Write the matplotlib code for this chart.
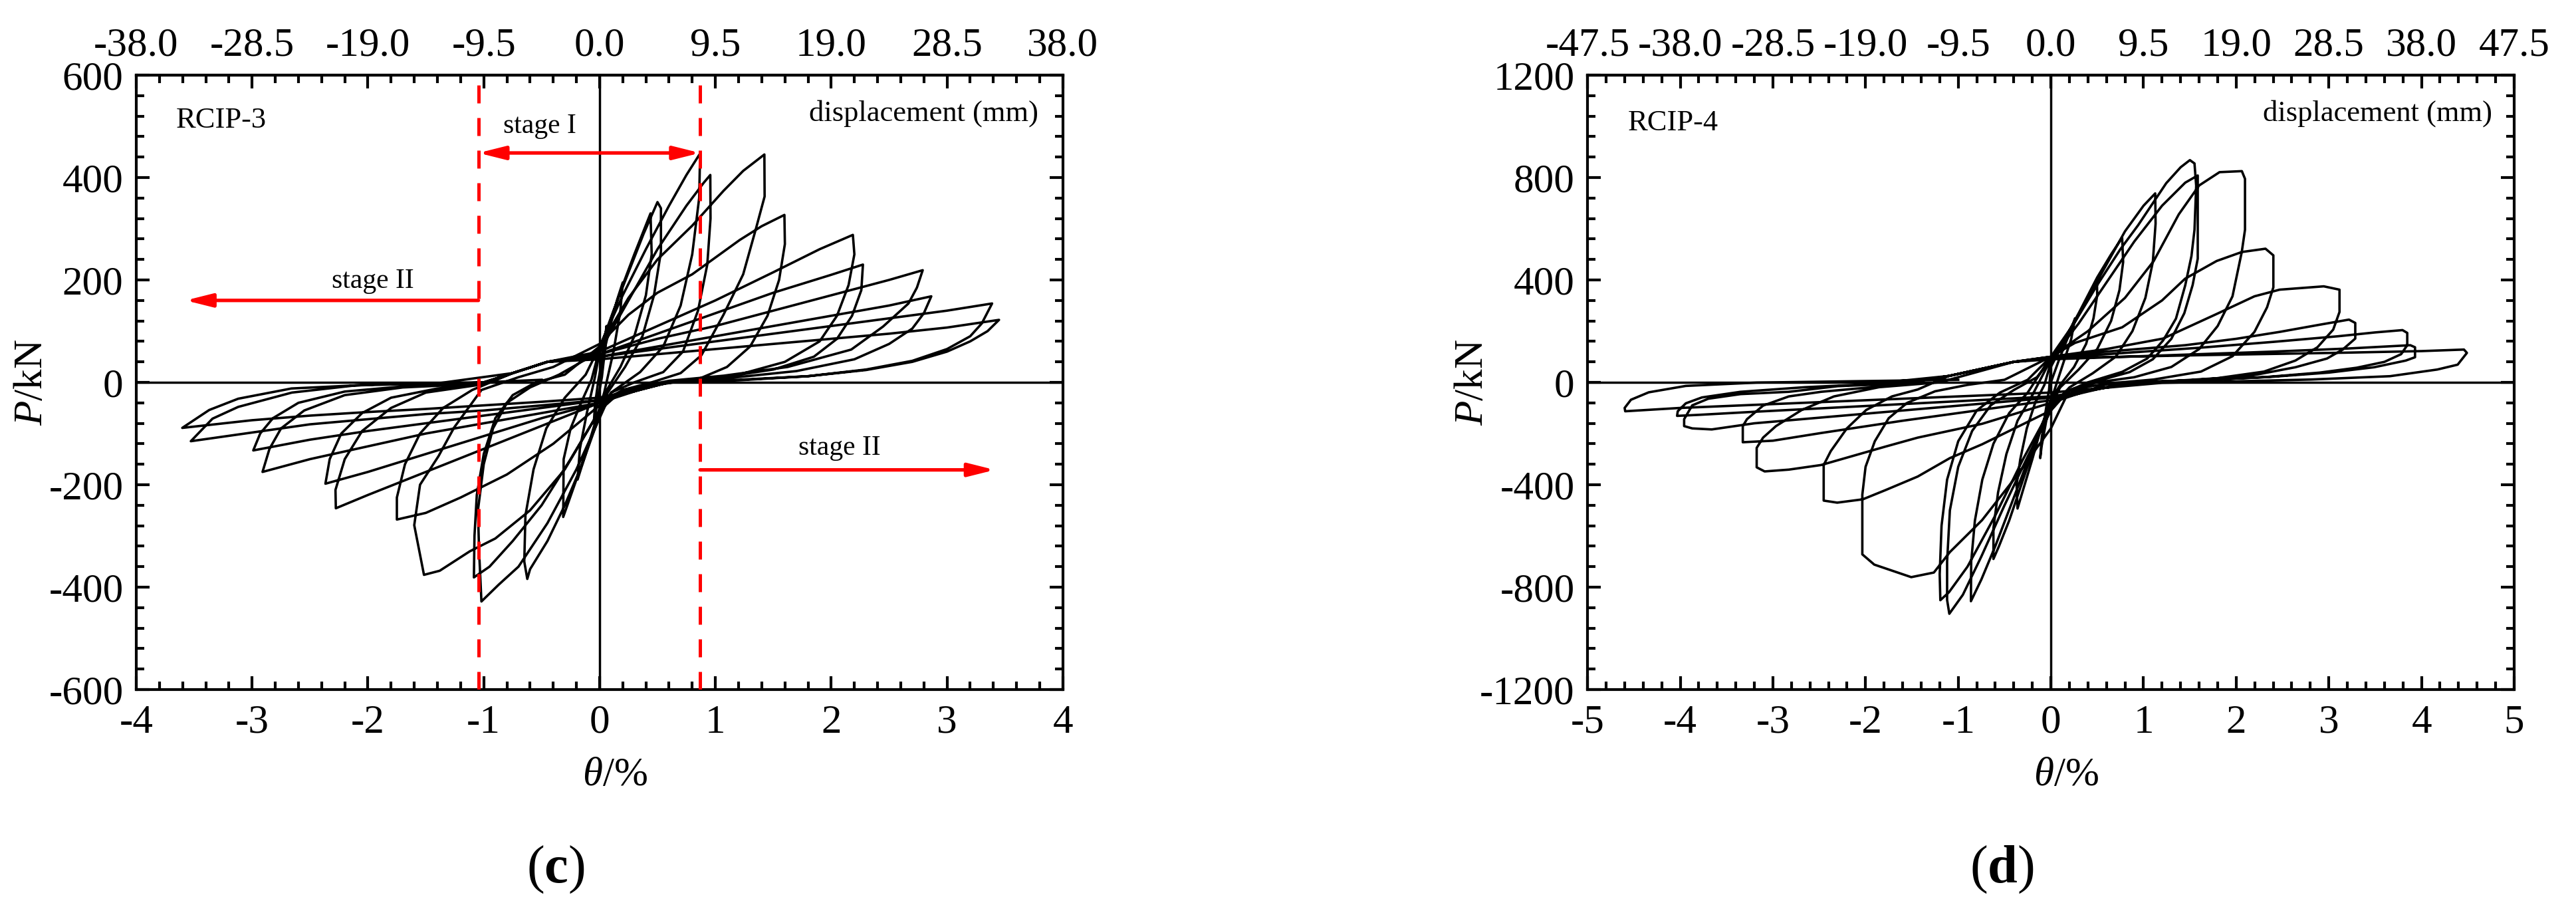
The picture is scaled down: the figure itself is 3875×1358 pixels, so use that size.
import numpy as np
import matplotlib
matplotlib.use('Agg')
import matplotlib.pyplot as plt
from matplotlib.ticker import MultipleLocator

plt.rcParams['font.family'] = ['Liberation Serif', 'DejaVu Serif']
plt.rcParams['mathtext.fontset'] = 'custom'
plt.rcParams['mathtext.rm'] = 'Liberation Serif'
plt.rcParams['mathtext.it'] = 'Liberation Serif:italic'
plt.rcParams['mathtext.bf'] = 'Liberation Serif:bold'
plt.rcParams['axes.unicode_minus'] = False

# RCIP-3 hysteresis cycles, (drift ratio %, load kN)
rcip3_loops = [
    [(0.0, 0), (0.03, 60), (0.06, 110), (0.05, 70), (0.02, 10), (-0.02, -40), (-0.05, -80), (-0.04, -45), (-0.01, 5)],
    [(0.02, 40), (0.08, 100), (0.15, 160), (0.2, 195), (0.18, 140), (0.12, 60), (0.04, -20), (-0.04, -80),
     (-0.12, -140), (-0.19, -190), (-0.17, -130), (-0.11, -60), (-0.04, 10)],
    [(0.0, 60), (0.1, 125), (0.2, 190), (0.3, 250), (0.44, 330), (0.45, 250), (0.4, 170), (0.3, 90), (0.18, 30),
     (0.05, -20), (0.0, -60), (-0.1, -125), (-0.2, -190), (-0.314, -263), (-0.31, -150), (-0.25, -90),
     (-0.16, -40), (-0.07, 5)],
    [(0.0, 65), (0.12, 140), (0.25, 215), (0.38, 290), (0.5, 352), (0.53, 340), (0.53, 255), (0.47, 170),
     (0.37, 90), (0.22, 30), (0.07, -20), (0.0, -65), (-0.15, -160), (-0.3, -240), (-0.45, -310), (-0.6, -365),
     (-0.624, -384), (-0.65, -350), (-0.64, -260), (-0.57, -170), (-0.46, -90), (-0.3, -30), (-0.12, 15)],
    [(0.0, 70), (0.2, 170), (0.4, 260), (0.6, 345), (0.75, 405), (0.868, 447), (0.86, 360), (0.8, 250),
     (0.7, 150), (0.55, 70), (0.35, 20), (0.1, -20), (0.0, -70), (-0.2, -170), (-0.45, -275), (-0.7, -360),
     (-0.87, -395), (-1.02, -428), (-1.04, -330), (-1.05, -250), (-1.0, -160), (-0.92, -90), (-0.8, -40),
     (-0.6, -10), (-0.35, 15)],
    [(0.0, 60), (0.25, 160), (0.5, 260), (0.75, 345), (0.9, 390), (0.956, 405), (0.958, 320), (0.93, 230),
     (0.85, 140), (0.72, 60), (0.55, 20), (0.3, 0), (0.1, -20), (0.0, -55), (-0.25, -150), (-0.5, -240),
     (-0.75, -310), (-0.95, -360), (-1.085, -381), (-1.08, -300), (-1.06, -220), (-1.0, -140), (-0.9, -70),
     (-0.75, -25), (-0.55, 0), (-0.3, 15)],
    [(0.0, 70), (0.25, 165), (0.5, 240), (0.8, 306), (1.07, 374), (1.24, 413), (1.423, 445), (1.425, 363),
     (1.35, 300), (1.24, 211), (1.07, 132), (0.88, 53), (0.7, 18), (0.45, 0), (0.2, -15), (0.0, -55),
     (-0.3, -170), (-0.6, -250), (-0.9, -305), (-1.12, -330), (-1.38, -368), (-1.516, -376), (-1.6, -279),
     (-1.55, -200), (-1.39, -144), (-1.255, -88), (-1.02, -15), (-0.7, 10), (-0.4, 30)],
    [(0.0, 75), (0.25, 132), (0.5, 175), (0.8, 211), (1.21, 278), (1.4, 305), (1.596, 327), (1.6, 270),
     (1.55, 200), (1.45, 130), (1.3, 70), (1.1, 30), (0.87, 8), (0.5, -5), (0.2, -20), (0.0, -45), (-0.4, -120),
     (-0.8, -180), (-1.2, -225), (-1.5, -255), (-1.75, -268), (-1.75, -225), (-1.68, -160), (-1.55, -100),
     (-1.35, -50), (-1.1, -15), (-0.75, 18), (-0.45, 40)],
    [(0.0, 60), (0.5, 110), (1.0, 160), (1.5, 215), (1.9, 260), (2.187, 288), (2.2, 250), (2.15, 190),
     (2.05, 130), (1.9, 80), (1.6, 40), (1.2, 15), (0.87, 5), (0.4, -5), (0.0, -40), (-0.5, -85), (-1.0, -130),
     (-1.5, -175), (-2.0, -220), (-2.277, -246), (-2.28, -210), (-2.2, -150), (-2.05, -95), (-1.8, -50),
     (-1.5, -20), (-1.04, -5), (-0.75, 18), (-0.45, 40)],
    [(0.0, 55), (0.5, 95), (1.0, 135), (1.5, 175), (2.0, 210), (2.274, 230), (2.26, 180), (2.18, 130),
     (2.05, 85), (1.85, 50), (1.5, 25), (1.0, 8), (0.5, -3), (0.0, -40), (-0.5, -70), (-1.0, -105),
     (-1.5, -140), (-2.0, -175), (-2.367, -198), (-2.33, -150), (-2.23, -100), (-2.05, -60), (-1.8, -30),
     (-1.4, -12), (-1.0, -3), (-0.75, 18), (-0.45, 40)],
    [(0.0, 55), (0.5, 85), (1.0, 110), (1.5, 140), (2.0, 170), (2.5, 200), (2.79, 219), (2.74, 185),
     (2.667, 154), (2.448, 109), (2.173, 64), (1.624, 30), (1.073, 13), (0.6, 3), (0.2, -15), (0.0, -40),
     (-0.5, -60), (-1.0, -80), (-1.5, -100), (-2.0, -125), (-2.5, -150), (-2.91, -175), (-2.85, -130),
     (-2.75, -90), (-2.55, -55), (-2.2, -25), (-1.7, -10), (-1.04, -3), (-0.75, 18), (-0.45, 40)],
    [(0.0, 50), (0.5, 70), (1.0, 90), (1.5, 110), (2.0, 130), (2.5, 150), (2.864, 168), (2.8, 135),
     (2.7, 105), (2.5, 75), (2.2, 45), (1.7, 22), (1.1, 8), (0.6, 0), (0.0, -35), (-0.5, -50), (-1.0, -65),
     (-1.5, -80), (-2.0, -95), (-2.5, -112), (-2.99, -133), (-2.93, -100), (-2.82, -70), (-2.6, -40),
     (-2.2, -18), (-1.6, -6), (-1.0, 0), (-0.75, 18), (-0.45, 40)],
    [(0.0, 50), (0.5, 65), (1.0, 80), (1.5, 95), (2.0, 110), (2.5, 125), (3.0, 140), (3.389, 154), (3.3, 115),
     (3.2, 90), (3.0, 65), (2.7, 42), (2.3, 25), (1.8, 12), (1.2, 5), (0.6, 0), (0.0, -35), (-0.5, -45),
     (-1.0, -55), (-1.5, -62), (-2.0, -72), (-2.5, -82), (-3.0, -98), (-3.529, -115), (-3.342, -71),
     (-3.12, -48), (-2.656, -20), (-2.106, -6), (-1.4, -2), (-0.75, 18), (-0.45, 40)],
    [(0.0, 45), (0.5, 55), (1.0, 65), (1.5, 75), (2.0, 85), (2.5, 95), (3.0, 107), (3.449, 122), (3.35, 100),
     (3.2, 80), (3.0, 60), (2.7, 40), (2.3, 24), (1.8, 12), (1.2, 4), (0.6, 0), (0.0, -30), (-0.5, -38),
     (-1.0, -45), (-1.5, -52), (-2.0, -58), (-2.5, -65), (-3.0, -74), (-3.603, -89), (-3.37, -54),
     (-3.12, -32), (-2.66, -12), (-1.83, -3), (-1.0, 0), (-0.5, 5)],
]

# RCIP-4 hysteresis cycles, (drift ratio %, load kN)
rcip4_loops = [
    [(0.0, 0), (0.1, 100), (0.2, 190), (0.26, 250), (0.22, 170), (0.12, 60), (0.03, -40), (-0.05, -150),
     (-0.1, -250), (-0.115, -296), (-0.1, -220), (-0.06, -120), (-0.02, -30)],
    [(0.0, 60), (0.1, 130), (0.25, 230), (0.4, 330), (0.497, 401), (0.5, 340), (0.46, 250), (0.38, 150),
     (0.25, 60), (0.1, -10), (0.0, -70), (-0.1, -170), (-0.2, -300), (-0.3, -420), (-0.36, -493), (-0.37, -400),
     (-0.33, -300), (-0.26, -180), (-0.17, -80), (-0.07, -10)],
    [(0.0, 80), (0.15, 170), (0.3, 270), (0.5, 410), (0.65, 500), (0.769, 565), (0.78, 470), (0.74, 360),
     (0.65, 240), (0.5, 130), (0.3, 50), (0.1, -20), (0.0, -90), (-0.15, -220), (-0.3, -380), (-0.45, -540),
     (-0.56, -640), (-0.62, -690), (-0.62, -570), (-0.57, -430), (-0.48, -280), (-0.36, -150), (-0.2, -50)],
    [(0.0, 90), (0.2, 200), (0.4, 330), (0.6, 460), (0.8, 590), (1.0, 690), (1.126, 738), (1.13, 620),
     (1.1, 470), (1.02, 330), (0.88, 200), (0.7, 100), (0.45, 35), (0.2, -20), (0.0, -100), (-0.2, -260),
     (-0.4, -450), (-0.6, -640), (-0.75, -770), (-0.863, -855), (-0.86, -700), (-0.82, -540), (-0.74, -380),
     (-0.62, -240), (-0.45, -120), (-0.25, -40)],
    [(0.0, 100), (0.25, 230), (0.5, 380), (0.75, 520), (0.94, 613), (1.245, 778), (1.4, 840), (1.5, 868),
     (1.55, 855), (1.568, 768), (1.55, 596), (1.517, 493), (1.45, 379), (1.35, 249), (1.21, 163), (1.04, 93),
     (0.77, 41), (0.4, 0), (0.15, -40), (0.0, -110), (-0.25, -290), (-0.5, -480), (-0.75, -680), (-0.95, -830),
     (-1.096, -904), (-1.12, -850), (-1.12, -700), (-1.09, -500), (-1.0, -330), (-0.85, -190), (-0.65, -90),
     (-0.4, -30), (-0.15, 20)],
    [(0.0, 90), (0.3, 230), (0.6, 390), (0.9, 550), (1.2, 690), (1.45, 780), (1.585, 808), (1.585, 483),
     (1.53, 380), (1.44, 270), (1.3, 170), (1.1, 90), (0.85, 40), (0.5, 5), (0.2, -30), (0.0, -100),
     (-0.3, -300), (-0.6, -520), (-0.9, -720), (-1.1, -820), (-1.193, -851), (-1.2, -750), (-1.18, -560),
     (-1.12, -380), (-1.0, -230), (-0.8, -110), (-0.55, -40), (-0.25, 10)],
    [(0.0, 100), (0.4, 200), (0.8, 330), (1.11, 474), (1.38, 656), (1.6, 769), (1.82, 821), (2.061, 825),
     (2.095, 795), (2.095, 596), (2.06, 509), (1.96, 336), (1.8, 220), (1.6, 130), (1.3, 60), (0.9, 20),
     (0.5, 0), (0.2, -30), (0.0, -180), (-0.394, -377), (-0.742, -538), (-1.09, -663), (-1.263, -743),
     (-1.507, -761), (-1.906, -712), (-2.035, -672), (-2.035, -439), (-2.0, -330), (-1.9, -230),
     (-1.75, -140), (-1.55, -80), (-1.25, -35), (-0.9, -10), (-0.5, 10)],
    [(0.0, 100), (0.26, 154), (0.77, 215), (1.2, 320), (1.449, 405), (1.789, 474), (2.06, 509), (2.316, 522),
     (2.401, 496), (2.401, 371), (2.333, 293), (2.197, 197), (1.96, 102), (1.62, 42), (1.11, 11), (0.6, -5),
     (0.2, -30), (0.0, -110), (-0.394, -180), (-0.742, -242), (-1.09, -296), (-1.437, -368), (-1.785, -421),
     (-2.03, -457), (-2.306, -470), (-2.452, -462), (-2.452, -323), (-2.376, -269), (-2.202, -180),
     (-1.993, -108), (-1.715, -55), (-1.437, -28), (-1.1, 25), (-0.4, 80)],
    [(0.0, 100), (0.6, 130), (1.211, 171), (1.789, 267), (2.197, 336), (2.469, 362), (2.945, 375),
     (3.115, 362), (3.115, 275), (3.047, 206), (2.877, 137), (2.639, 85), (2.3, 42), (1.79, 16), (1.2, 3),
     (0.6, -8), (0.0, -80), (-0.742, -162), (-1.437, -216), (-1.785, -251), (-2.132, -287), (-2.48, -323),
     (-2.828, -341), (-3.089, -348), (-3.175, -332), (-3.175, -256), (-3.106, -216), (-2.967, -171),
     (-2.689, -108), (-2.341, -55), (-1.854, -19), (-1.2, 0), (-0.4, 80)],
    [(0.0, 100), (0.6, 120), (1.449, 145), (2.0, 170), (2.469, 197), (2.9, 225), (3.217, 245), (3.285, 232),
     (3.285, 171), (3.149, 128), (2.98, 93), (2.64, 59), (2.13, 24), (1.5, 8), (0.8, -2), (0.0, -70),
     (-0.8, -110), (-1.6, -150), (-2.48, -198), (-3.0, -228), (-3.325, -234), (-3.325, -171), (-3.28, -144),
     (-3.106, -91), (-2.828, -55), (-2.48, -37), (-1.9, -18), (-1.1, 25), (-0.4, 80)],
    [(0.0, 95), (0.8, 115), (1.6, 135), (2.4, 158), (3.1, 180), (3.5, 195), (3.795, 204), (3.846, 193),
     (3.846, 145), (3.78, 110), (3.6, 80), (3.3, 57), (2.9, 38), (2.3, 20), (1.6, 8), (0.9, 0), (0.0, -60),
     (-0.8, -85), (-1.6, -110), (-2.4, -135), (-3.2, -160), (-3.66, -184), (-3.87, -180), (-3.958, -171),
     (-3.958, -144), (-3.871, -90), (-3.697, -64), (-3.349, -46), (-2.828, -37), (-2.3, -15), (-1.6, -5),
     (-1.1, 25), (-0.4, 80)],
    [(0.0, 90), (0.8, 100), (1.6, 110), (2.4, 120), (3.2, 132), (3.879, 145), (3.93, 137), (3.93, 98),
     (3.83, 85), (3.49, 59), (3.0, 38), (2.4, 22), (1.7, 10), (1.0, 2), (0.0, -55), (-0.8, -70), (-1.6, -85),
     (-2.4, -100), (-3.2, -115), (-3.8, -127), (-4.034, -131), (-4.027, -113), (-3.94, -82), (-3.766, -59),
     (-3.35, -37), (-2.654, -19), (-2.0, -8), (-1.1, 25), (-0.4, 80)],
    [(0.0, 95), (0.8, 100), (1.6, 106), (2.4, 111), (3.2, 116), (4.0, 122), (4.458, 128), (4.49, 115),
     (4.39, 69), (4.17, 50), (3.66, 24), (2.81, 11), (2.0, 4), (1.2, -2), (0.0, -40), (-1.0, -55), (-2.0, -70),
     (-3.0, -85), (-4.0, -100), (-4.594, -113), (-4.6, -100), (-4.532, -68), (-4.34, -39), (-3.94, -14),
     (-3.175, -1), (-2.0, 5), (-1.0, 10)],
]

# top axis: displacement (mm) labels at drift ticks
rcip3_drift_ticks = [-4, -3, -2, -1, 0, 1, 2, 3, 4]
rcip3_disp_labels = ['-38.0', '-28.5', '-19.0', '-9.5', '0.0', '9.5', '19.0', '28.5', '38.0']
rcip4_drift_ticks = [-5, -4, -3, -2, -1, 0, 1, 2, 3, 4, 5]
rcip4_disp_labels = ['-47.5', '-38.0', '-28.5', '-19.0', '-9.5', '0.0', '9.5', '19.0', '28.5', '38.0', '47.5']

# stage boundaries of RCIP-3 (drift %)
stage_bounds = [-1.046, 0.868]

fig = plt.figure(figsize=(38.75, 13.58), dpi=100)
ax_c = fig.add_axes([0.0529, 0.2364, 0.3597, 0.6804])
ax_d = fig.add_axes([0.6163, 0.2364, 0.3597, 0.6804])


def style_axes(ax, xmax, ymax, ystep, ticks, labels):
    ax.set_xlim(-xmax, xmax)
    ax.set_ylim(-ymax, ymax)
    ax.xaxis.set_major_locator(MultipleLocator(1))
    ax.xaxis.set_minor_locator(MultipleLocator(0.2))
    ax.yaxis.set_major_locator(MultipleLocator(ystep))
    ax.yaxis.set_minor_locator(MultipleLocator(ystep / 5))
    ax.tick_params(which='both', direction='in', top=False, right=True, width=3, labelsize=44)
    ax.tick_params(which='major', length=14.4)
    ax.tick_params(which='minor', length=8.6)
    ax.tick_params(axis='x', pad=16)
    ax.tick_params(axis='y', pad=14)
    for sp in ax.spines.values():
        sp.set_linewidth(3)
    top = ax.secondary_xaxis('top')
    top.set_xticks(ticks, labels=labels)
    top.xaxis.set_minor_locator(MultipleLocator(0.2))
    top.tick_params(which='both', direction='in', width=3, labelsize=44, pad=12)
    top.tick_params(which='major', length=14.4)
    top.tick_params(which='minor', length=8.6)
    top.spines['top'].set_linewidth(3)
    ax.axhline(0, color='black', lw=2.5, zorder=1)
    ax.axvline(0, color='black', lw=2.5, zorder=1)


def draw_loops(ax, loops):
    pts = np.array([p for loop in loops for p in loop])
    ax.plot(pts[:, 0], pts[:, 1], color='black', lw=2.6, zorder=3)


style_axes(ax_c, 4, 600, 200, rcip3_drift_ticks, rcip3_disp_labels)
style_axes(ax_d, 5, 1200, 400, rcip4_drift_ticks, rcip4_disp_labels)
draw_loops(ax_c, rcip3_loops)
draw_loops(ax_d, rcip4_loops)

# stage markers on RCIP-3
for xb in stage_bounds:
    ax_c.axvline(xb, color='red', lw=3.6, dashes=(5.4, 4.4), zorder=4)
red_arrow = dict(color='red', lw=3.8, shrinkA=0, shrinkB=0, mutation_scale=10)
ax_c.annotate('', xy=(stage_bounds[1], 448), xytext=(stage_bounds[0], 448),
              arrowprops=dict(arrowstyle='<|-|>,head_length=2.4,head_width=0.6', **red_arrow), zorder=5)
ax_c.annotate('', xy=(-3.575, 160), xytext=(stage_bounds[0], 160),
              arrowprops=dict(arrowstyle='-|>,head_length=2.4,head_width=0.6', **red_arrow), zorder=5)
ax_c.annotate('', xy=(3.413, -171), xytext=(stage_bounds[1], -171),
              arrowprops=dict(arrowstyle='-|>,head_length=2.4,head_width=0.6', **red_arrow), zorder=5)
ax_c.text(-0.519, 487, 'stage I', fontsize=30, ha='center', va='baseline')
ax_c.text(-1.957, 185, 'stage II', fontsize=30, ha='center', va='baseline')
ax_c.text(2.071, -141, 'stage II', fontsize=30, ha='center', va='baseline')

ax_c.text(-3.657, 512, 'RCIP-3', fontsize=32, ha='left', va='center')
ax_c.text(3.79, 525, 'displacement (mm)', fontsize=32, ha='right', va='center')
ax_d.text(-4.565, 1014, 'RCIP-4', fontsize=32, ha='left', va='center')
ax_d.text(4.766, 1050, 'displacement (mm)', fontsize=32, ha='right', va='center')

for ax, ylx, tag, tagx in [(ax_c, -0.1126, '(c)', 0.4527), (ax_d, -0.124, '(d)', 0.4469)]:
    ax.text(ylx, 0.5, '$P$/kN', rotation=90, fontsize=44, ha='center', va='center', transform=ax.transAxes)
    ax.text(0.5165, -0.1396, r'$\theta$/%', fontsize=44, ha='center', va='center', transform=ax.transAxes)
    ax.text(tagx, -0.2934, tag.replace(tag[1], r'$\mathbf{%s}$' % tag[1]), fontsize=58,
            ha='center', va='center', transform=ax.transAxes)

fig.savefig('out.png', dpi=100)
